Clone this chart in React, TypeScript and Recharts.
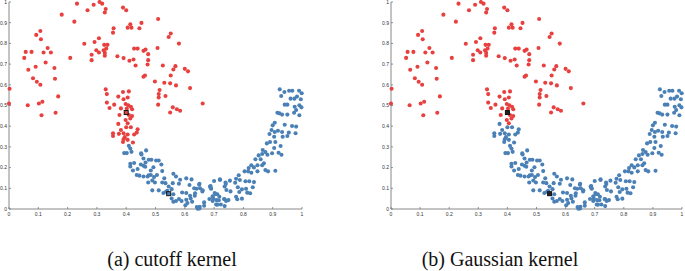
import React from "react";
import { ScatterChart, Scatter, XAxis, YAxis } from "recharts";

// points that are red in both panels
const redPoints: [number, number][] = [
  [0.232,0.992],[0.309,1.0],[0.318,0.992],[0.289,0.987],[0.268,0.96],[0.330,0.966],[0.327,0.949],[0.389,0.973],[0.400,0.96],[0.180,0.939],
  [0.223,0.905],[0.414,0.892],[0.405,0.876],[0.418,0.876],[0.445,0.873],[0.452,0.899],[0.509,0.918],[0.357,0.873],[0.355,0.852],[0.552,0.848],
  [0.545,0.831],[0.580,0.799],[0.107,0.860],[0.093,0.841],[0.109,0.820],[0.257,0.798],[0.307,0.825],[0.292,0.807],[0.325,0.793],[0.336,0.793],
  [0.132,0.778],[0.057,0.759],[0.077,0.759],[0.118,0.756],[0.143,0.756],[0.052,0.730],[0.125,0.708],[0.066,0.673],[0.091,0.687],[0.155,0.681],
  [0.082,0.632],[0.095,0.615],[0.107,0.600],[0.157,0.629],[0.209,0.730],[0.282,0.745],[0.282,0.719],[0.298,0.767],[0.307,0.756],[0.323,0.767],
  [0.332,0.775],[0.327,0.754],[0.327,0.740],[0.370,0.738],[0.391,0.729],[0.411,0.716],[0.425,0.722],[0.432,0.693],[0.427,0.775],[0.439,0.775],
  [0.459,0.764],[0.466,0.770],[0.475,0.748],[0.475,0.719],[0.473,0.698],[0.507,0.778],[0.459,0.639],[0.464,0.645],[0.498,0.616],[0.525,0.693],
  [0.530,0.610],[0.550,0.607],[0.552,0.645],[0.561,0.674],[0.568,0.690],[0.570,0.597],[0.600,0.677],[0.611,0.665],[0.618,0.584],[0.514,0.575],
  [0.511,0.555],[0.511,0.539],[0.534,0.546],[0.509,0.504],[0.559,0.491],[0.550,0.466],[0.573,0.482],[0.584,0.475],[0.661,0.510],[0.002,0.581],
  [0.0,0.509],[0.064,0.501],[0.102,0.510],[0.114,0.518],[0.111,0.453],[0.159,0.465],[0.168,0.544],
  [0.330,0.578],[0.334,0.555],[0.334,0.514],[0.343,0.488],[0.359,0.504],[0.373,0.543],[0.389,0.565],[0.409,0.568],[0.391,0.530],[0.405,0.539],
  [0.398,0.507],[0.407,0.501],[0.416,0.494],[0.402,0.485],[0.420,0.482],[0.382,0.486],[0.377,0.454],[0.400,0.466],[0.409,0.454],[0.420,0.449],
  [0.414,0.437],[0.398,0.430],[0.405,0.414],
];

// points red under the cutoff kernel, blue under the Gaussian kernel
const switchPoints: [number, number][] = [
  [0.373,0.411],[0.400,0.395],[0.382,0.382],[0.416,0.395],[0.439,0.385],[0.436,0.369],[0.355,0.366],[0.355,0.353],[0.375,0.363],[0.391,0.366],
  [0.395,0.347],[0.405,0.360],[0.427,0.360],[0.391,0.337],[0.405,0.334],[0.389,0.324],[0.423,0.321],
];

// points blue in both panels
const bluePoints: [number, number][] = [
  [0.409,0.305],[0.414,0.292],[0.393,0.270],[0.402,0.270],[0.418,0.276],[0.468,0.283],[0.452,0.263],[0.459,0.244],[0.477,0.238],[0.486,0.238],
  [0.502,0.234],[0.511,0.234],[0.520,0.215],[0.466,0.225],[0.450,0.215],[0.414,0.218],[0.414,0.205],[0.427,0.222],[0.423,0.186],[0.439,0.193],
  [0.459,0.209],[0.493,0.202],[0.484,0.186],[0.523,0.183],[0.436,0.164],[0.445,0.161],[0.459,0.157],[0.473,0.157],[0.484,0.164],[0.495,0.154],
  [0.505,0.164],[0.530,0.148],[0.489,0.138],[0.498,0.128],[0.475,0.128],[0.523,0.128],[0.534,0.125],[0.561,0.170],[0.570,0.157],[0.584,0.141],
  [0.605,0.148],[0.559,0.125],[0.580,0.122],[0.616,0.116],[0.632,0.100],[0.650,0.122],[0.652,0.100],[0.661,0.090],[0.545,0.109],[0.555,0.096],
  [0.536,0.083],[0.527,0.077],[0.545,0.074],[0.511,0.090],[0.489,0.090],[0.561,0.071],[0.555,0.051],[0.561,0.035],[0.570,0.039],[0.580,0.048],
  [0.589,0.039],[0.605,0.045],[0.609,0.029],[0.620,0.051],[0.625,0.035],[0.634,0.064],[0.641,0.010],[0.650,0.003],[0.666,0.032],[0.666,0.016],
  [0.686,0.109],[0.689,0.100],[0.700,0.135],[0.720,0.144],[0.739,0.128],[0.736,0.109],[0.695,0.061],[0.702,0.077],[0.711,0.071],[0.684,0.048],
  [0.695,0.039],[0.716,0.042],[0.723,0.022],[0.734,0.048],[0.741,0.039],[0.707,0.022],[0.605,0.077],[0.591,0.080],[0.618,0.064],
  [0.451,0.269],[0.465,0.204],[0.477,0.163],[0.623,0.143],[0.540,0.088],[0.602,0.018],
  [0.941,0.504],[0.950,0.504],[0.975,0.494],[0.991,0.501],[0.998,0.491],[0.980,0.478],[0.973,0.465],[0.916,0.465],[0.923,0.462],[0.932,0.456],
  [0.950,0.456],[0.907,0.417],[0.900,0.404],[0.941,0.407],[0.966,0.401],[0.980,0.398],[0.896,0.382],[0.907,0.372],[0.932,0.372],[0.955,0.369],
  [0.978,0.366],[0.889,0.362],[0.905,0.349],[0.934,0.349],[0.880,0.317],[0.891,0.324],[0.909,0.324],[0.905,0.295],[0.866,0.285],[0.875,0.275],
  [0.927,0.304],[0.920,0.272],[0.930,0.262],[0.852,0.259],[0.882,0.262],[0.841,0.240],[0.859,0.240],[0.870,0.221],[0.827,0.211],[0.848,0.211],
  [0.818,0.198],[0.875,0.188],[0.884,0.182],[0.909,0.185],[0.804,0.182],[0.784,0.163],[0.775,0.146],[0.754,0.137],[0.788,0.140],[0.807,0.134],
  [0.836,0.130],[0.740,0.121],[0.720,0.140],[0.688,0.111],[0.649,0.117],[0.640,0.098],[0.742,0.092],[0.781,0.105],[0.786,0.082],[0.809,0.098],
  [0.823,0.076],[0.704,0.072],[0.718,0.059],[0.697,0.050],[0.736,0.047],[0.749,0.043],[0.775,0.059],[0.779,0.047],[0.795,0.050],[0.711,0.021],
  [0.736,0.014],[0.644,0.001],
  [0.918,0.378],[0.950,0.353],[0.991,0.453],[0.864,0.266],[0.898,0.269],[0.864,0.211],[0.836,0.201],[0.816,0.182],[0.827,0.175],[0.848,0.182],
  [0.772,0.127],[0.820,0.134],[0.690,0.098],[0.660,0.085],[0.756,0.085],[0.795,0.095],[0.813,0.079],[0.832,0.105],[0.708,0.043],[0.651,0.011],
  [0.635,0.076],
  [0.924,0.578],[0.929,0.546],[0.940,0.565],[0.956,0.571],[0.967,0.571],[0.990,0.571],[0.999,0.559],[0.961,0.533],[0.974,0.533],[0.983,0.543],
  [0.996,0.530],
];

// cluster centres (black markers)
const centerPoints: [number, number][] = [[0.400,0.466],[0.545,0.074]];

const axisTicks = [0, 0.1, 0.2, 0.3, 0.4, 0.5, 0.6, 0.7, 0.8, 0.9, 1];
const captions = ["(a) cutoff kernel", "(b) Gaussian kernel"];

const RED = "#e8403f";
const BLUE = "#4a80b6";

const toObj = (arr: [number, number][]) => arr.map(([x, y]) => ({ x, y }));

const dot = (color: string) => (p: any) => (
  <circle cx={p.cx} cy={p.cy} r={2.05} fill={color} />
);

const centerShape = (filled: boolean) => (p: any) => (
  <rect x={p.cx - 2} y={p.cy - 2} width={4} height={4} fill={filled ? "#222" : "none"} stroke="#111" strokeWidth={1} />
);

const XTick = (props: any) => {
  const { x, y, payload } = props;
  return (
    <g>
      <line x1={x} x2={x} y1={y} y2={y - 2} stroke="#777" strokeWidth={0.8} />
      <text x={x} y={y + 7} fontSize={5} textAnchor="middle" fill="#333" fontFamily="Liberation Sans, Arial, sans-serif">
        {String(payload.value)}
      </text>
    </g>
  );
};

const YTick = (props: any) => {
  const { x, y, payload } = props;
  return (
    <g>
      <line x1={x} x2={x + 2} y1={y} y2={y} stroke="#777" strokeWidth={0.8} />
      <text x={x - 2} y={y + 1.8} fontSize={5} textAnchor="end" fill="#333" fontFamily="Liberation Sans, Arial, sans-serif">
        {String(payload.value)}
      </text>
    </g>
  );
};

function Panel({ left, width, rightMargin, switchColor, filledCenter }: any) {
  return (
    <div style={{ position: "absolute", left, top: 0 }}>
      <ScatterChart width={width} height={225} margin={{ top: 2, right: rightMargin, bottom: 2, left: 0 }}>
        <XAxis type="number" dataKey="x" domain={[0, 1]} ticks={axisTicks} height={14} tickSize={0} tickMargin={0}
          tick={XTick} axisLine={{ stroke: "#888", strokeWidth: 1 }} tickLine={false} interval={0} />
        <YAxis type="number" dataKey="y" domain={[0, 1]} ticks={axisTicks} width={9} tickSize={0} tickMargin={0}
          tick={YTick} axisLine={{ stroke: "#888", strokeWidth: 1 }} tickLine={false} interval={0} />
        <Scatter data={toObj(redPoints)} shape={dot(RED)} isAnimationActive={false} />
        <Scatter data={toObj(bluePoints)} shape={dot(BLUE)} isAnimationActive={false} />
        <Scatter data={toObj(switchPoints)} shape={dot(switchColor)} isAnimationActive={false} />
        <Scatter data={toObj(centerPoints)} shape={centerShape(filledCenter)} isAnimationActive={false} />
      </ScatterChart>
    </div>
  );
}

export default function App() {
  return (
    <div style={{ position: "absolute", left: 0, top: 0, width: 685, height: 271, background: "#fff", overflow: "hidden" }}>
      <Panel left={0} width={310} rightMargin={8} switchColor={RED} filledCenter={false} />
      <Panel left={382} width={303} rightMargin={3} switchColor={BLUE} filledCenter={true} />
      <svg width={685} height={271} style={{ position: "absolute", left: 0, top: 0, pointerEvents: "none" }}>
        <text x={172} y={265.5} fontSize={20} textAnchor="middle" fontFamily="Liberation Serif, Times New Roman, serif" fill="#111">
          {captions[0]}
        </text>
        <text x={500} y={265.5} fontSize={20} textAnchor="middle" fontFamily="Liberation Serif, Times New Roman, serif" fill="#111">
          {captions[1]}
        </text>
      </svg>
    </div>
  );
}
